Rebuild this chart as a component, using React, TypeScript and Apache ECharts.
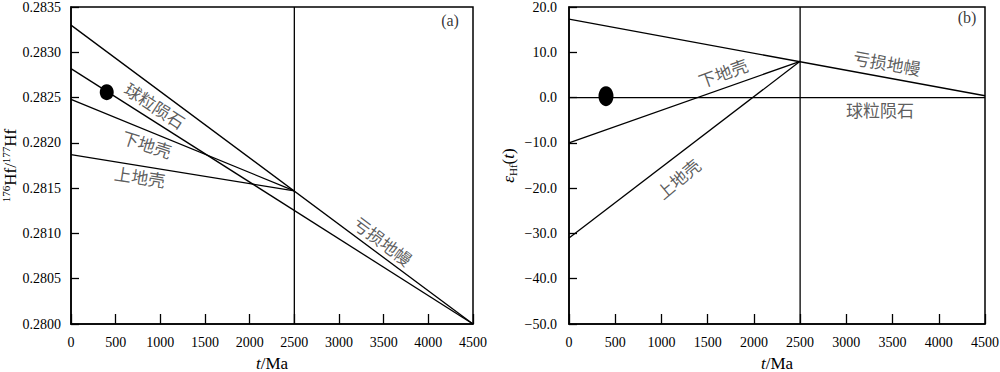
import React, { useEffect, useRef } from 'react';
import * as echarts from 'echarts';

// Panel (a): 176Hf/177Hf evolution
const hfDM = [[0, 0.2833], [4500, 0.28]];
const hfCHUR = [[0, 0.28282], [4500, 0.28]];
const hfLower = [[0, 0.28248], [2500, 0.28147]];
const hfUpper = [[0, 0.28187], [2500, 0.28147]];
const hfSample = [[400, 0.28256]];
const hfRef = [[2500, 0.28], [2500, 0.2835]];
const hfLabels = [
  { x: 940, y: 0.282417, text: '球粒陨石', rot: -33 },
  { x: 850, y: 0.28199, text: '下地壳', rot: -18 },
  { x: 772, y: 0.28163, text: '上地壳', rot: -9 },
  { x: 3493, y: 0.28092, text: '亏损地幔', rot: -37 },
];

// Panel (b): εHf(t) evolution
const epsDM = [[0, 17.3], [4500, 0.4]];
const epsCHUR = [[0, 0], [4500, 0]];
const epsLower = [[0, -10], [2500, 8]];
const epsUpper = [[0, -31], [2500, 8]];
const epsSample = [[400, 0.3]];
const epsRef = [[2500, -50], [2500, 20]];
const epsLabels = [
  { x: 3440, y: 7.75, text: '亏损地幔', rot: -10 },
  { x: 3364, y: -2.53, text: '球粒陨石', rot: 0 },
  { x: 1666, y: 5.56, text: '下地壳', rot: 20 },
  { x: 1179, y: -17.85, text: '上地壳', rot: 40 },
];

const panelTags = [
  { x: 4243, y: 0.283347, text: '(a)' },
  { x: 4305, y: 17.6, text: '(b)' },
];

const xTicks = { min: 0, max: 4500, interval: 500 };

const serif = 'Liberation Serif';
const cjk = 'Noto Sans CJK SC';

function lineSeries(data: number[][], idx: number) {
  return {
    type: 'line',
    xAxisIndex: idx,
    yAxisIndex: idx,
    data,
    symbol: 'none',
    silent: true,
    lineStyle: { color: '#000', width: 1.3 },
  };
}

function labelSeries(labels: { x: number; y: number; text: string; rot: number }[], idx: number) {
  return {
    type: 'scatter',
    xAxisIndex: idx,
    yAxisIndex: idx,
    symbolSize: 0,
    silent: true,
    data: labels.map((l) => ({
      value: [l.x, l.y],
      label: {
        show: true,
        position: 'inside',
        formatter: l.text,
        rotate: l.rot,
        fontFamily: cjk,
        fontSize: 17,
        color: '#333',
      },
    })),
  };
}

function tagSeries(tag: { x: number; y: number; text: string }, idx: number) {
  return {
    type: 'scatter',
    xAxisIndex: idx,
    yAxisIndex: idx,
    symbolSize: 0,
    silent: true,
    data: [
      {
        value: [tag.x, tag.y],
        label: {
          show: true,
          position: 'inside',
          formatter: tag.text,
          fontFamily: serif,
          fontSize: 16,
          color: '#000',
        },
      },
    ],
  };
}

function sampleSeries(data: number[][], idx: number, size: number[]) {
  return {
    type: 'scatter',
    xAxisIndex: idx,
    yAxisIndex: idx,
    data,
    symbol: 'circle',
    symbolSize: size,
    itemStyle: { color: '#000', opacity: 1 },
    silent: true,
  };
}

function xAxis(idx: number) {
  return {
    type: 'value',
    gridIndex: idx,
    ...xTicks,
    name: '{i|t}{n|/Ma}',
    nameLocation: 'middle',
    nameGap: 31,
    nameTextStyle: {
      rich: {
        i: { fontFamily: serif, fontSize: 17, fontStyle: 'italic', color: '#000' },
        n: { fontFamily: serif, fontSize: 17, color: '#000' },
      },
    },
    axisLine: { show: true, onZero: false, lineStyle: { color: '#000', width: 1.5 } },
    axisTick: { show: true, inside: true, length: 10, lineStyle: { color: '#000', width: 1.3 } },
    axisLabel: {
      fontFamily: serif,
      fontSize: 14,
      color: '#000',
      margin: 11,
      formatter: (v: number) => String(v),
    },
    splitLine: { show: false },
  };
}

export default function App() {
  const ref = useRef<HTMLDivElement>(null);
  useEffect(() => {
    if (!ref.current) return;
    const chart = echarts.init(ref.current, undefined, { renderer: 'svg' });
    chart.setOption({
      animation: false,
      backgroundColor: '#fff',
      grid: [
        {
          left: 71, top: 7, width: 402, height: 317, show: true, borderColor: '#000', borderWidth: 1.5,
          containLabel: false, outerBoundsMode: 'none',
        },
        {
          left: 569, top: 7, width: 416, height: 317, show: true, borderColor: '#000', borderWidth: 1.5,
          containLabel: false, outerBoundsMode: 'none',
        },
      ],
      xAxis: [xAxis(0), xAxis(1)],
      yAxis: [
        {
          type: 'value',
          gridIndex: 0,
          min: 0.28,
          max: 0.2835,
          interval: 0.0005,
          name: '{sup|176}{n|Hf/}{sup|177}{n|Hf}',
          nameLocation: 'middle',
          nameGap: 50,
          nameTextStyle: {
            rich: {
              sup: { fontFamily: serif, fontSize: 11, color: '#000', verticalAlign: 'top', lineHeight: 20 },
              n: { fontFamily: serif, fontSize: 17, color: '#000', lineHeight: 20 },
            },
          },
          axisLine: { show: true, onZero: false, lineStyle: { color: '#000', width: 1.5 } },
          axisTick: { show: true, inside: true, length: 8, lineStyle: { color: '#000', width: 1.3 } },
          axisLabel: {
            fontFamily: serif,
            fontSize: 14,
            color: '#000',
            margin: 10,
            formatter: (v: number) => v.toFixed(4),
          },
          splitLine: { show: false },
        },
        {
          type: 'value',
          gridIndex: 1,
          min: -50,
          max: 20,
          interval: 10,
          name: '{i|ε}{sub|Hf}{n|(}{i|t}{n|)}',
          nameLocation: 'middle',
          nameGap: 51,
          nameTextStyle: {
            rich: {
              i: { fontFamily: serif, fontSize: 17, fontStyle: 'italic', color: '#000', lineHeight: 20 },
              n: { fontFamily: serif, fontSize: 17, color: '#000', lineHeight: 20 },
              sub: { fontFamily: serif, fontSize: 11, color: '#000', verticalAlign: 'bottom', lineHeight: 20 },
            },
          },
          axisLine: { show: true, onZero: false, lineStyle: { color: '#000', width: 1.5 } },
          axisTick: { show: true, inside: true, length: 8, lineStyle: { color: '#000', width: 1.3 } },
          axisLabel: {
            fontFamily: serif,
            fontSize: 14,
            color: '#000',
            margin: 12,
            formatter: (v: number) => v.toFixed(1).replace('-', '\u2212'),
          },
          splitLine: { show: false },
        },
      ],
      series: [
        lineSeries(hfDM, 0),
        lineSeries(hfCHUR, 0),
        lineSeries(hfLower, 0),
        lineSeries(hfUpper, 0),
        lineSeries(hfRef, 0),
        sampleSeries(hfSample, 0, [14, 16]),
        labelSeries(hfLabels, 0),
        tagSeries(panelTags[0], 0),
        lineSeries(epsDM, 1),
        lineSeries(epsCHUR, 1),
        lineSeries(epsLower, 1),
        lineSeries(epsUpper, 1),
        lineSeries(epsRef, 1),
        sampleSeries(epsSample, 1, [15, 20]),
        labelSeries(epsLabels, 1),
        tagSeries(panelTags[1], 1),
      ],
    });
    return () => chart.dispose();
  }, []);
  return (
    <div
      ref={ref}
      style={{ position: 'fixed', left: 0, top: 0, width: 1000, height: 372, background: '#fff' }}
    />
  );
}
